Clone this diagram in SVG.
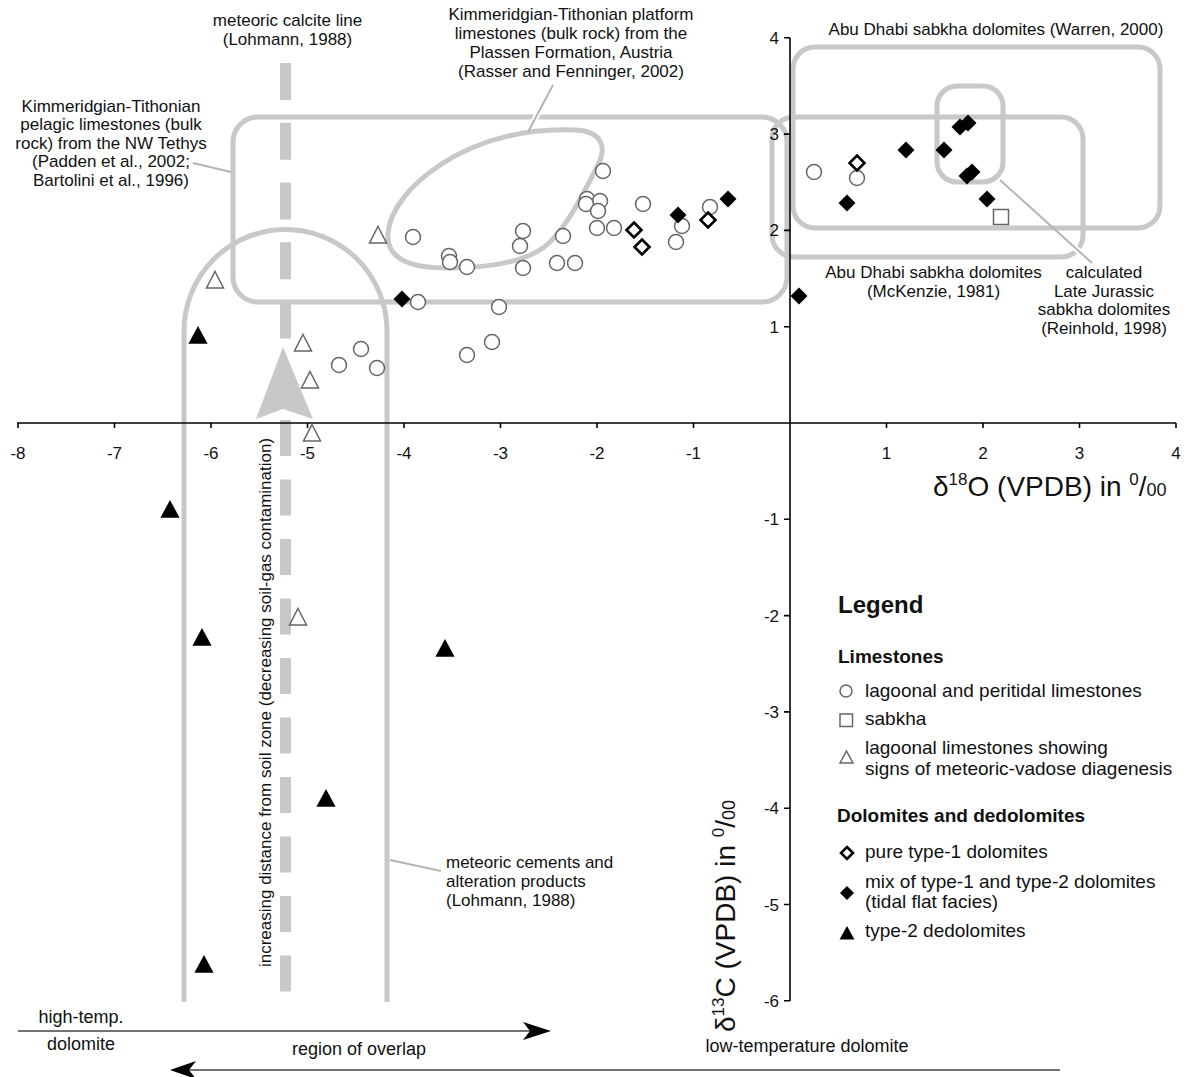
<svg xmlns="http://www.w3.org/2000/svg" xmlns:xlink="http://www.w3.org/1999/xlink" width="1189" height="1077" viewBox="0 0 1189 1077">
<style>
text{font-family:"Liberation Sans",Arial,sans-serif;fill:#111}
.lab{font-size:17px}
.ctr{text-anchor:middle}
.tick{font-size:17px}
.yt{font-size:17px;text-anchor:end}
.leg{font-size:19px}
.legb{font-size:19px;font-weight:bold}
.bot{font-size:18px}
.field{fill:none;stroke:#c8c8c8;stroke-width:5}
.ptr{fill:none;stroke:#b4b4b4;stroke-width:2}
.halo{fill:none;stroke:#fff;stroke-width:6}
.ax{fill:none;stroke:#000;stroke-width:1.6}
.open{fill:#fff;stroke:#666;stroke-width:1.5}
.blk{fill:#000;stroke:none}
.dia{fill:#fff;stroke:#000;stroke-width:2.6}
.arr{fill:none;stroke:#444;stroke-width:1.6}
</style>
<defs>
<circle id="c" r="7.5" class="open"/>
<rect id="s" x="-7.5" y="-7.5" width="15" height="15" class="open"/>
<path id="t" d="M0,-8.5 L8.5,8 L-8.5,8 Z" class="open"/>
<path id="T" d="M0,-9 L9.6,8.8 L-9.6,8.8 Z" class="blk"/>
<path id="d" d="M0,-7.5 L7.5,0 L0,7.5 L-7.5,0 Z" class="dia"/>
<path id="D" d="M0,-8.5 L8.5,0 L0,8.5 L-8.5,0 Z" class="blk"/>
</defs>
<rect width="1189" height="1077" fill="#fff"/>

<g id="fields">
<rect id="pelagic-field" class="field" x="233" y="117" width="554" height="185" rx="25"/>
<path id="plassen-field" class="field" d="M388,233 C386,256 405,268 447,268 C490,268 530,262 550,242 C570,222 585,190 598,165 C608,145 600,131 575,130 C530,128 480,138 440,165 C410,185 390,210 388,233 Z"/>
<rect id="warren-field" class="field" x="793" y="47" width="367" height="181" rx="22"/>
<rect id="mckenzie-field" class="field" x="772" y="117" width="311" height="140" rx="22"/>
<rect id="reinhold-field" class="field" x="937" y="86" width="66" height="96" rx="20"/>
<path id="meteoric-cements-field" class="field" d="M184,1002 L184,331 A101.5,101.5 0 0 1 387,331 L387,1002"/>
</g>

<g id="meteoric-calcite-line">
<line x1="285.5" y1="63" x2="285.5" y2="338.5" stroke="#c8c8c8" stroke-width="11" stroke-dasharray="37 22.75"/>
<line x1="285.5" y1="420" x2="285.5" y2="992" stroke="#c8c8c8" stroke-width="11" stroke-dasharray="36 23.5"/>
<path id="soil-arrow" d="M283,347 L313,419 L283,409 L256,419 Z" fill="#c8c8c8"/>
</g>

<g id="connectors">
<line class="ptr" x1="193" y1="163" x2="231" y2="172"/>
<line class="halo" x1="540" y1="109" x2="532" y2="125"/>
<line class="ptr" x1="553" y1="85" x2="528" y2="132"/>
<line class="halo" x1="1071" y1="244" x2="1085" y2="257"/>
<line class="ptr" x1="1000" y1="180" x2="1092" y2="263"/>
<line class="ptr" x1="390" y1="860" x2="441" y2="871"/>
</g>

<g id="axes">
<line class="ax" x1="17" y1="423" x2="1176" y2="423"/>
<line class="ax" x1="790" y1="37.8" x2="790" y2="1001"/>
<path class="ax" d="M18,423v5 M114.5,423v5 M211,423v5 M307.5,423v5 M404,423v5 M500.5,423v5 M597,423v5 M693.5,423v5 M886.5,423v5 M983,423v5 M1079.5,423v5 M1176,423v5"/>
<path class="ax" d="M784,37.8h6 M784,134.1h6 M784,230.4h6 M784,326.7h6 M784,519.3h6 M784,615.6h6 M784,711.9h6 M784,808.2h6 M784,904.5h6 M784,1000.8h6"/>
<g class="tick ctr">
<text x="18" y="459">-8</text><text x="114.5" y="459">-7</text><text x="211" y="459">-6</text><text x="307.5" y="459">-5</text><text x="404" y="459">-4</text><text x="500.5" y="459">-3</text><text x="597" y="459">-2</text><text x="693.5" y="459">-1</text><text x="886.5" y="459">1</text><text x="983" y="459">2</text><text x="1079.5" y="459">3</text><text x="1176" y="459">4</text>
</g>
<g class="yt">
<text x="779" y="44">4</text><text x="779" y="140">3</text><text x="779" y="236">2</text><text x="779" y="333">1</text><text x="779" y="525">-1</text><text x="779" y="622">-2</text><text x="779" y="718">-3</text><text x="779" y="814">-4</text><text x="779" y="911">-5</text><text x="779" y="1007">-6</text>
</g>
<text id="x-title" x="933" y="496" font-size="28">δ<tspan font-size="17" dy="-11">18</tspan><tspan dy="11">O (VPDB) in </tspan><tspan font-size="17" dy="-11">0</tspan><tspan dy="11">/</tspan><tspan font-size="18">00</tspan></text>
<text id="y-title" transform="translate(735,1032) rotate(-90)" font-size="28">δ<tspan font-size="17" dy="-11">13</tspan><tspan dy="11">C (VPDB) in </tspan><tspan font-size="17" dy="-11">0</tspan><tspan dy="11">/</tspan><tspan font-size="18">00</tspan></text>
</g>

<g id="lagoonal-limestones">
<use href="#c" x="603" y="171"/><use href="#c" x="587" y="199"/><use href="#c" x="600" y="201"/><use href="#c" x="586" y="204"/><use href="#c" x="598" y="211"/><use href="#c" x="597" y="228"/><use href="#c" x="614" y="228"/><use href="#c" x="643" y="204"/><use href="#c" x="563" y="236"/><use href="#c" x="523" y="231"/><use href="#c" x="520" y="246"/><use href="#c" x="449" y="256"/><use href="#c" x="450" y="262"/><use href="#c" x="467" y="267"/><use href="#c" x="413" y="237"/><use href="#c" x="523" y="268"/><use href="#c" x="557" y="263"/><use href="#c" x="575" y="263"/><use href="#c" x="682" y="226"/><use href="#c" x="676" y="242"/><use href="#c" x="710" y="207"/><use href="#c" x="418" y="302"/><use href="#c" x="499" y="307"/><use href="#c" x="361" y="349"/><use href="#c" x="339" y="365"/><use href="#c" x="377" y="368"/><use href="#c" x="492" y="342"/><use href="#c" x="467" y="355"/><use href="#c" x="814" y="172"/><use href="#c" x="857" y="178"/>
</g>
<g id="sabkha-limestone"><use href="#s" x="1001" y="217"/></g>
<g id="meteoric-vadose-limestones">
<use href="#t" x="378" y="235"/><use href="#t" x="215" y="280"/><use href="#t" x="303" y="343"/><use href="#t" x="310" y="380"/><use href="#t" x="312" y="433"/><use href="#t" x="298" y="617"/>
</g>
<g id="type2-dedolomites">
<use href="#T" x="198" y="335"/><use href="#T" x="170" y="509"/><use href="#T" x="202" y="637"/><use href="#T" x="445" y="648"/><use href="#T" x="326" y="798"/><use href="#T" x="204" y="964"/>
</g>
<g id="pure-type1-dolomites">
<use href="#d" x="634" y="230"/><use href="#d" x="642" y="247"/><use href="#d" x="708" y="220"/><use href="#d" x="857" y="163"/>
</g>
<g id="mixed-dolomites">
<use href="#D" x="402" y="299"/><use href="#D" x="678" y="215"/><use href="#D" x="728" y="199"/><use href="#D" x="799" y="296"/><use href="#D" x="847" y="203"/><use href="#D" x="906" y="150"/><use href="#D" x="944" y="150"/><use href="#D" x="960" y="127"/><use href="#D" x="968" y="123"/><use href="#D" x="967" y="176"/><use href="#D" x="972" y="172"/><use href="#D" x="987" y="199"/>
</g>

<g id="labels" class="lab">
<g class="ctr">
<text x="287.5" y="26">meteoric calcite line</text>
<text x="287.5" y="44.5">(Lohmann, 1988)</text>
<text x="111" y="111.5">Kimmeridgian-Tithonian</text>
<text x="111" y="130">pelagic limestones (bulk</text>
<text x="111" y="148.5">rock) from the NW Tethys</text>
<text x="111" y="167">(Padden et al., 2002;</text>
<text x="111" y="185.5">Bartolini et al., 1996)</text>
<text x="571" y="20">Kimmeridgian-Tithonian platform</text>
<text x="571" y="39">limestones (bulk rock) from the</text>
<text x="571" y="58">Plassen Formation, Austria</text>
<text x="571" y="77">(Rasser and Fenninger, 2002)</text>
<text x="996" y="35">Abu Dhabi sabkha dolomites (Warren, 2000)</text>
<text x="933.5" y="278">Abu Dhabi sabkha dolomites</text>
<text x="933.5" y="296.5">(McKenzie, 1981)</text>
<text x="1104" y="278">calculated</text>
<text x="1104" y="296.5">Late Jurassic</text>
<text x="1104" y="315">sabkha dolomites</text>
<text x="1104" y="333.5">(Reinhold, 1998)</text>
</g>
<text x="446" y="868">meteoric cements and</text>
<text x="446" y="887">alteration products</text>
<text x="446" y="906">(Lohmann, 1988)</text>
<text class="ctr" transform="translate(271,702.5) rotate(-90)">increasing distance from soil zone (decreasing soil-gas contamination)</text>
</g>

<g id="legend">
<text x="838" y="613" font-size="24" font-weight="bold">Legend</text>
<text class="legb" x="838" y="663">Limestones</text>
<circle cx="846" cy="691" r="6" class="open"/>
<text class="leg" x="865" y="697">lagoonal and peritidal limestones</text>
<rect x="840" y="714" width="12.5" height="12.5" class="open"/>
<text class="leg" x="865" y="725">sabkha</text>
<path d="M846.5,751 L853,763 L840,763 Z" class="open"/>
<text class="leg" x="865" y="754">lagoonal limestones showing</text>
<text class="leg" x="865" y="775">signs of meteoric-vadose diagenesis</text>
<text class="legb" x="837" y="822">Dolomites and dedolomites</text>
<path d="M847,847 L853,853 L847,859 L841,853 Z" class="dia" stroke-width="2.3"/>
<text class="leg" x="865" y="858">pure type-1 dolomites</text>
<path d="M847,886 L854,893 L847,900 L840,893 Z" class="blk"/>
<text class="leg" x="865" y="888">mix of type-1 and type-2 dolomites</text>
<text class="leg" x="865" y="908">(tidal flat facies)</text>
<path d="M847,926 L854.5,939.5 L839.5,939.5 Z" class="blk"/>
<text class="leg" x="865" y="937">type-2 dedolomites</text>
</g>

<g id="temperature-arrows">
<line class="arr" x1="18" y1="1031" x2="532" y2="1031"/>
<path d="M551,1031 L523,1022 L530,1031 L523,1040 Z" fill="#000"/>
<line class="arr" x1="188" y1="1070" x2="1060" y2="1070"/>
<path d="M170,1070 L196,1061 L189,1070 L196,1079 Z" fill="#000"/>
<text class="bot ctr" x="81" y="1023">high-temp.</text>
<text class="bot ctr" x="81" y="1050">dolomite</text>
<text class="bot ctr" x="359" y="1055">region of overlap</text>
<text class="bot ctr" x="807" y="1052">low-temperature dolomite</text>
</g>
</svg>
